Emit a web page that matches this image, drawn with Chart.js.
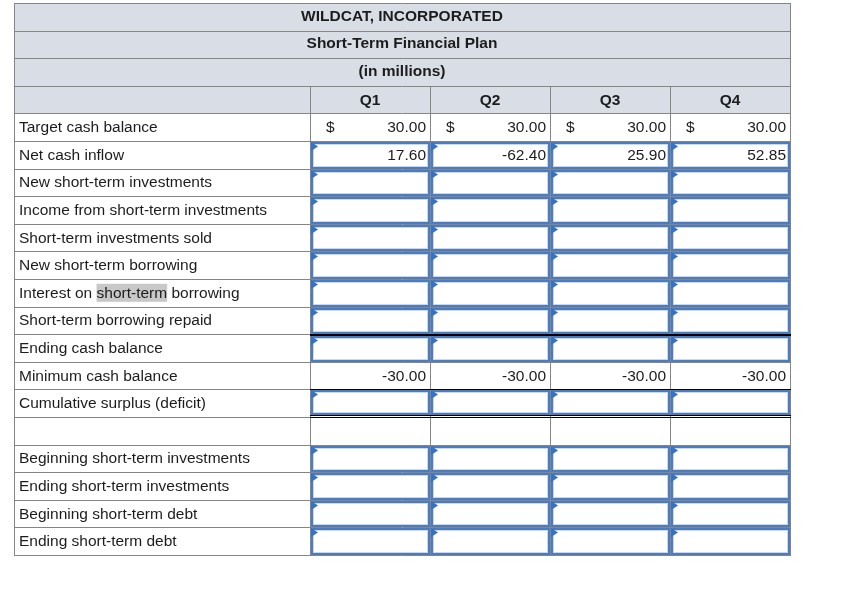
<!DOCTYPE html>
<html>
<head>
<meta charset="utf-8">
<script src="https://cdn.jsdelivr.net/npm/chart.js@4"></script>
<style>
  html, body { margin: 0; padding: 0; background: #fff; }
  canvas { display: block; }
</style>
</head>
<body>
<canvas id="plan" width="859" height="592"></canvas>
<script>
const titleLines = ['WILDCAT, INCORPORATED', 'Short-Term Financial Plan', '(in millions)'];
const quarters = ['Q1', 'Q2', 'Q3', 'Q4'];
const rowLabels = [
    'Target cash balance',
    'Net cash inflow',
    'New short-term investments',
    'Income from short-term investments',
    'Short-term investments sold',
    'New short-term borrowing',
    'Interest on short-term borrowing',
    'Short-term borrowing repaid',
    'Ending cash balance',
    'Minimum cash balance',
    'Cumulative surplus (deficit)',
    '',
    'Beginning short-term investments',
    'Ending short-term investments',
    'Beginning short-term debt',
    'Ending short-term debt'
];
const targetCashBalance = [30.00, 30.00, 30.00, 30.00];
const netCashInflow = [17.60, -62.40, 25.90, 52.85];
const minimumCashBalance = [-30.00, -30.00, -30.00, -30.00];
// rows (index into rowLabels) that carry answer boxes
const answerRows = [1, 2, 3, 4, 5, 6, 7, 8, 10, 12, 13, 14, 15];
const selectedWord = { row: 6, text: 'short-term' };

const HEAD = titleLines.length + 1;
const TOTAL = HEAD + rowLabels.length;
const LABEL_W = 296 / 120; // label column, in quarter-column units
const FONT = '"Liberation Sans", Arial, sans-serif';
const C = {
    head: '#d9dde6', grid: '#858585', text: '#1c1c1c', rule: '#000',
    blue: '#4a7cbf', blueIn: '#c9d8ee', flag: '#3472c6', sel: '#c8c8c8'
};

const rowOf = label => rowLabels.indexOf(label);
const cellPoints = (values, row) => values.map((v, i) => ({ x: i + 0.5, y: HEAD + row + 0.5, v: v }));

const tablePlugin = {
    id: 'tablePlan',
    beforeDraw(chart) {
        const ctx = chart.ctx;
        ctx.save();
        ctx.fillStyle = '#fff';
        ctx.fillRect(0, 0, chart.width, chart.height);
        ctx.restore();
    },
    afterDatasetsDraw(chart) {
        const ctx = chart.ctx, xs = chart.scales.x, ys = chart.scales.y;
        const px = v => Math.round(xs.getPixelForValue(v));
        const py = r => Math.round(ys.getPixelForValue(r));
        const L = px(-LABEL_W), R = px(quarters.length);
        const endRow = rowOf('Ending cash balance'), cumRow = rowOf('Cumulative surplus (deficit)');
        ctx.save();

        // header band
        ctx.fillStyle = C.head;
        ctx.fillRect(L, py(0), R - L, py(HEAD) - py(0));

        // answer boxes
        answerRows.forEach(r => {
            for (let q = 0; q < quarters.length; q++) {
                const x0 = px(q), x1 = px(q + 1);
                let y0 = py(HEAD + r), y1 = py(HEAD + r + 1);
                if (r === endRow) y0 += 1;
                if (r === cumRow) y1 -= 2;
                ctx.lineWidth = 2;
                ctx.strokeStyle = C.blue;
                ctx.strokeRect(x0 + 2, y0 + 2, x1 - x0 - 3, y1 - y0 - 3);
                ctx.lineWidth = 1;
                ctx.strokeStyle = C.blueIn;
                ctx.strokeRect(x0 + 3.5, y0 + 3.5, x1 - x0 - 6, y1 - y0 - 6);
                ctx.fillStyle = C.flag;
                ctx.beginPath();
                ctx.moveTo(x0 + 1, y0 + 1);
                ctx.lineTo(x0 + 8, y0 + 5.5);
                ctx.lineTo(x0 + 1, y0 + 10);
                ctx.closePath();
                ctx.fill();
            }
        });

        // grid
        ctx.strokeStyle = C.grid;
        ctx.lineWidth = 1;
        ctx.beginPath();
        for (let k = 0; k <= TOTAL; k++) {
            ctx.moveTo(L, py(k) + 0.5);
            ctx.lineTo(R + 1, py(k) + 0.5);
        }
        ctx.moveTo(L + 0.5, py(0)); ctx.lineTo(L + 0.5, py(TOTAL) + 1);
        ctx.moveTo(R + 0.5, py(0)); ctx.lineTo(R + 0.5, py(TOTAL) + 1);
        for (let q = 0; q < quarters.length; q++) {
            ctx.moveTo(px(q) + 0.5, py(HEAD - 1));
            ctx.lineTo(px(q) + 0.5, py(TOTAL));
        }
        ctx.stroke();

        // black rules over the quarter columns
        ctx.fillStyle = C.rule;
        const q0 = px(0), w = R - q0 + 1;
        ctx.fillRect(q0, py(HEAD + endRow), w, 2);
        ctx.fillRect(q0, py(HEAD + cumRow), w, 1);
        ctx.fillRect(q0, py(HEAD + cumRow + 1) - 2, w, 1);
        ctx.fillRect(q0, py(HEAD + cumRow + 1), w, 1);

        // titles and quarter heads
        ctx.fillStyle = C.text;
        ctx.font = 'bold 15.5px ' + FONT;
        ctx.textAlign = 'center';
        ctx.textBaseline = 'alphabetic';
        titleLines.forEach((t, i) => {
            ctx.fillText(t, (L + R) / 2, ys.getPixelForValue(i + 0.5) + 4);
        });
        quarters.forEach((t, q) => {
            ctx.fillText(t, xs.getPixelForValue(q + 0.5), ys.getPixelForValue(HEAD - 0.5) + 5);
        });

        // row labels
        ctx.font = '15.5px ' + FONT;
        ctx.textAlign = 'left';
        rowLabels.forEach((t, r) => {
            if (!t) return;
            const base = ys.getPixelForValue(HEAD + r + 0.5) + 5;
            if (r === selectedWord.row) {
                const at = t.indexOf(selectedWord.text);
                const x0 = L + 5 + ctx.measureText(t.slice(0, at)).width;
                const sw = ctx.measureText(selectedWord.text).width;
                ctx.fillStyle = C.sel;
                ctx.fillRect(x0, base - 14, sw, 18);
                ctx.fillStyle = C.text;
            }
            ctx.fillText(t, L + 5, base);
        });

        // values, placed from the dataset elements
        chart.data.datasets.forEach((ds, di) => {
            chart.getDatasetMeta(di).data.forEach((el, i) => {
                const p = ds.data[i];
                const right = px(p.x + 0.5) - 4;
                ctx.textAlign = 'right';
                ctx.fillText(p.v.toFixed(2), right, el.y + 5);
                if (ds.dollar) {
                    ctx.textAlign = 'left';
                    ctx.fillText('$', px(p.x - 0.5) + 16, el.y + 5);
                }
            });
        });
        ctx.restore();
    }
};

new Chart(document.getElementById('plan'), {
    type: 'scatter',
    data: {
        datasets: [
            { label: 'Target cash balance', data: cellPoints(targetCashBalance, rowOf('Target cash balance')), dollar: true, pointRadius: 0 },
            { label: 'Net cash inflow', data: cellPoints(netCashInflow, rowOf('Net cash inflow')), pointRadius: 0 },
            { label: 'Minimum cash balance', data: cellPoints(minimumCashBalance, rowOf('Minimum cash balance')), pointRadius: 0 }
        ]
    },
    options: {
        responsive: false, animation: false, events: [],
        layout: { padding: { left: 14, right: 69, top: 3, bottom: 37 } },
        scales: {
            x: { type: 'linear', min: -LABEL_W, max: quarters.length, display: false },
            y: { type: 'linear', min: 0, max: TOTAL, reverse: true, display: false }
        },
        plugins: { legend: { display: false }, tooltip: { enabled: false } }
    },
    plugins: [tablePlugin]
});
</script>
</body>
</html>
